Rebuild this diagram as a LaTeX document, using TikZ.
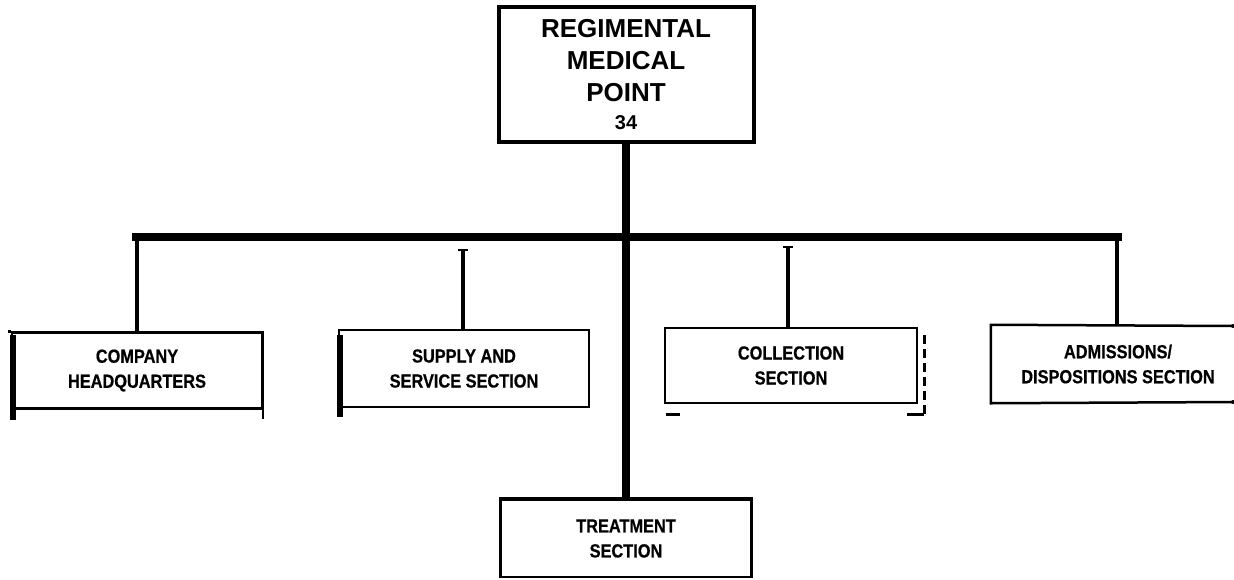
\documentclass[tikz,border=0pt]{standalone}
\usepackage{fontspec}
\setmainfont{Liberation Sans}
\newfontfamily\narrowfont{Liberation Sans Bold}[FakeStretch=0.86, FakeBold=0.6]
\begin{document}
\begin{tikzpicture}[x=1pt,y=-1pt,
  unit/.style={draw, line width=2.5pt, rectangle, inner sep=0pt, align=center,
    minimum width=250pt, minimum height=76pt,
    font=\narrowfont\fontsize{19}{25}\selectfont},
  openunit/.style={unit, draw=none},
  link/.style={line width=3.5pt},
  trunk/.style={line width=8pt},
  thickedge/.style={line width=6pt},
  thinedge/.style={line width=2pt},
  tickcap/.style={line width=2pt}]
\useasboundingbox (0,0) rectangle (1234,579);

% top box
\node[unit, line width=4pt, minimum width=255pt, minimum height=135pt,
  font=\bfseries\fontsize{26}{32}\selectfont] (rmp) at (626,74.5)
  {REGIMENTAL\\MEDICAL\\POINT\\[-4pt]{\fontsize{20}{22}\selectfont 34}};

% subordinate boxes
\node[unit] (hq) at (137,370.5) {COMPANY\\HEADQUARTERS};
\node[unit, minimum height=77pt] (sup) at (464,368.5) {SUPPLY AND\\SERVICE SECTION};
\node[unit, minimum width=252pt, minimum height=75pt] (col) at (791,365.5) {COLLECTION\\SECTION};
\node[openunit, minimum width=252pt] (adm) at (1118,364) {ADMISSIONS/\\DISPOSITIONS SECTION};
\node[unit, minimum width=251pt, minimum height=77pt] (trt) at (626,538.5) {TREATMENT\\SECTION};

% coordinates
\coordinate (barL) at (132,237);
\coordinate (barR) at (1122,237);
\coordinate (supTop) at (463,250);
\coordinate (colTop) at (788,247);
\coordinate (admTR) at (1233,326);
\coordinate (admBR) at (1233,402);
\coordinate (admX) at (1117,0);

% admissions box edges (open on the right)
\draw[line width=2.5pt] (admTR) -- (adm.north west) -- (adm.south west) -- (admBR);
\fill (admTR) circle (2pt);
\fill (admBR) circle (2pt);

% trunk and bar
\draw[trunk] (rmp.south) -- (trt.north);
\draw[trunk] (barL) -- (barR);

% drop lines
\draw[link] (barL -| hq.north) -- (hq.north);
\draw[link] (supTop) -- (supTop |- sup.north);
\draw[tickcap] ([xshift=-5pt]supTop) -- ([xshift=5pt]supTop);
\draw[link] (colTop) -- (colTop |- col.north);
\draw[tickcap] ([xshift=-5pt]colTop) -- ([xshift=5pt]colTop);
\draw[link] (barR -| admX) -- (adm.north -| admX);

% HQ extras
\draw[thickedge] ([xshift=2pt,yshift=-4pt]hq.north west) -- ([xshift=2pt,yshift=-10pt]hq.south west);
\draw[thinedge] (hq.north east) -- ([yshift=-9pt]hq.south east);
\draw[line width=2.5pt] ([xshift=-3pt]hq.north west) -- (hq.north west);

% Supply extras
\draw[thickedge] ([xshift=2pt,yshift=-6pt]sup.north west) -- ([xshift=2pt,yshift=-9pt]sup.south west);

% Collection extras
\draw[line width=3pt, dash pattern=on 9pt off 5pt]
  ([xshift=6pt,yshift=-8pt]col.north east) -- ([xshift=6pt,yshift=-10pt]col.south east);
\draw[line width=3pt] ([xshift=2pt,yshift=-10pt]col.south west) -- ([xshift=16pt,yshift=-10pt]col.south west);
\draw[line width=3pt] ([xshift=-11pt,yshift=-10pt]col.south east) -- ([xshift=6pt,yshift=-10pt]col.south east);

% Treatment extras
\draw[line width=4.5pt] (trt.north west) -- (trt.north east);
\end{tikzpicture}
\end{document}
